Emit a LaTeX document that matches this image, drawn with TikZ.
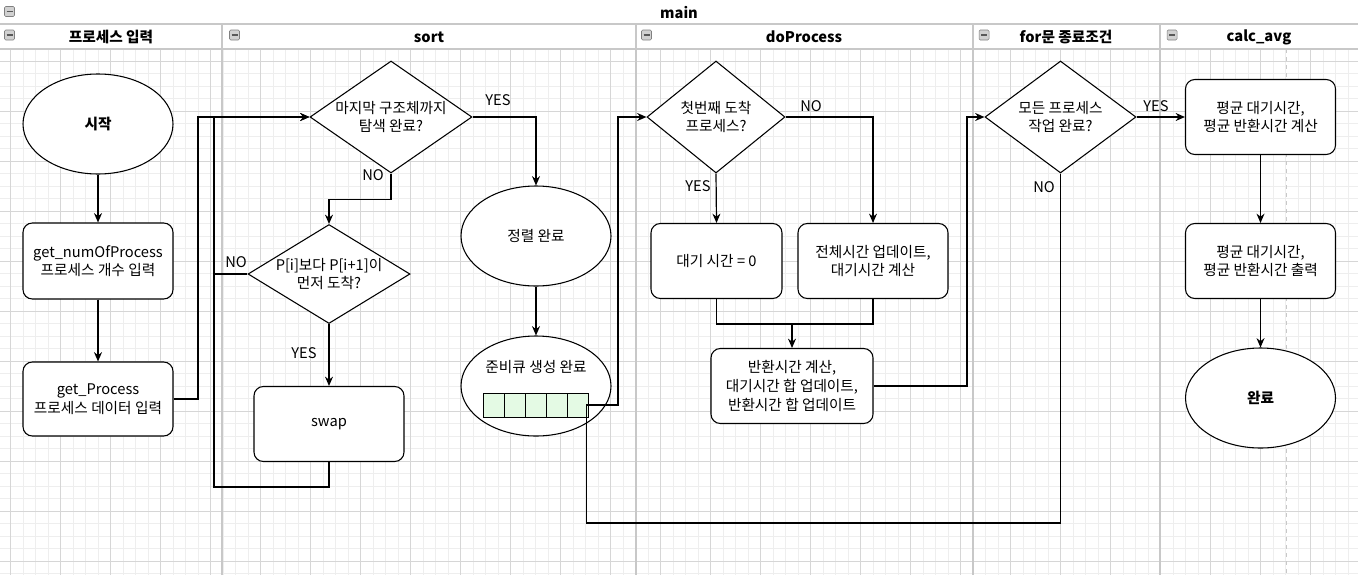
\documentclass[tikz,border=0pt]{standalone}
\usepackage{fontspec}
\setmainfont{Noto Sans CJK KR}
\usetikzlibrary{shapes.geometric,arrows.meta}
\definecolor{qgreen}{RGB}{228,250,228}
\definecolor{gridlo}{RGB}{238,238,238}
\definecolor{gridhi}{RGB}{214,214,214}
\definecolor{lanegray}{RGB}{200,200,200}

\begin{document}
\begin{tikzpicture}[x=0.75pt,y=-0.75pt,
    every node/.style={font=\fontsize{11}{14}\selectfont},
    box/.style={draw,rectangle,rounded corners=7pt,minimum width=112.5pt,minimum height=56.25pt,align=center,inner sep=0pt,fill=white,line width=0.8pt},
    term/.style={draw,ellipse,minimum width=112.5pt,minimum height=75pt,inner sep=0pt,fill=white,line width=0.8pt},
    dec/.style={draw,diamond,inner sep=0pt,fill=white,line width=0.8pt},
    qcell/.style={draw,fill=qgreen,minimum width=15.75pt,minimum height=18pt,inner sep=0pt,line width=0.7pt},
    head/.style={font=\fontsize{11}{12}\selectfont\bfseries},
    flow/.style={line width=0.9pt},
    arr/.style={flow,-{Stealth[length=7pt,width=6pt]}}]

      \useasboundingbox (0,0) rectangle (1358,575);
      \fill[white] (0,0) rectangle (1358,575);

      \begin{scope}
        \foreach \gx in {10.7,23.2,...,1358} \draw[gridlo] (\gx,49) -- (\gx,575);
        \foreach \gy in {61,73.5,...,575} \draw[gridlo] (0,\gy) -- (1358,\gy);
        \foreach \gx in {10.7,60.7,...,1358} \draw[gridhi] (\gx,49) -- (\gx,575);
        \foreach \gy in {61,111,...,575} \draw[gridhi] (0,\gy) -- (1358,\gy);
        \draw[lanegray,dashed] (1286,49) -- (1286,575);
        \draw[lanegray,line width=1.2pt] (0,24) -- (1358,24) (0,49) -- (1358,49);
        \foreach \lx in {222,636,973,1160} \draw[lanegray,line width=1.2pt] (\lx,24) -- (\lx,575);
        \foreach \ix/\iy in {9.5/11.5,9.5/35,234.5/35,646.5/35,984/35,1172/35} {
          \filldraw[fill=black!18,draw=black!50,rounded corners=1pt] (\ix-5,\iy-5) rectangle (\ix+5,\iy+5);
          \draw[black!65,line width=1.2pt] (\ix-3,\iy) -- (\ix+3,\iy);
        }
      \end{scope}

      \node[head] (hmain) at (679,13) {main};
      \node[head] (hin)   at (111,37) {프로세스 입력};
      \node[head] (hsort) at (429,37) {sort};
      \node[head] (hdo)   at (804,37) {doProcess};
      \node[head] (hfor)  at (1066,37) {for문 종료조건};
      \node[head] (havg)  at (1259,37) {calc\_avg};

      \node[term,font=\fontsize{11}{14}\selectfont\bfseries] (start) at (98,124) {시작};
      \node[box,minimum height=57pt] (numin) at (98,261) {get\_numOfProcess\\프로세스 개수 입력};
      \node[box,minimum height=55.5pt] (procin) at (98,399) {get\_Process\\프로세스 데이터 입력};

      \node[dec,minimum width=121.5pt,minimum height=84pt,
            label={[name=d1t,align=center]center:마지막 구조체까지\\탐색 완료?}] (d1) at (391,117) {};
      \node[dec,minimum width=121.5pt,minimum height=74.25pt,
            label={[name=d4t,align=center]center:P[i]보다 P[i+1]이\\먼저 도착?}] (d4) at (329,274) {};
      \node[box] (swap) at (329,424) {swap};
      \node[term] (sorted) at (536,236) {정렬 완료};
      \node[term] (ready) at (536,386) {};
      \node (readyt) at (536,367) {준비큐 생성 완료};
      \foreach \i in {0,...,4}
        \node[qcell] (q\i) at ({493.8+21*\i},405) {};
      \coordinate (qout) at ([xshift=-2pt]q4.east);

      \node[dec,minimum width=103.5pt,minimum height=84pt,
            label={[name=d2t,align=center]center:첫번째 도착\\프로세스?}] (d2) at (716,117) {};
      \node[box,minimum width=98.25pt] (wait0) at (716.5,261) {대기 시간 = 0};
      \node[box] (upd) at (873,261) {전체시간 업데이트,\\대기시간 계산};
      \node[box,minimum width=121.5pt] (ret) at (792,386) {반환시간 계산,\\대기시간 합 업데이트,\\반환시간 합 업데이트};
      \coordinate (join) at (792,323);

      \node[dec,minimum width=113.25pt,minimum height=84pt,
            label={[name=d3t,align=center]center:모든 프로세스\\작업 완료?}] (d3) at (1060.5,117) {};
      \node[box] (avg) at (1260.5,117) {평균 대기시간,\\평균 반환시간 계산};
      \node[box] (out) at (1260.5,261) {평균 대기시간,\\평균 반환시간 출력};
      \node[term,font=\fontsize{11}{14}\selectfont\bfseries] (done) at (1260.5,398) {완료};

      \draw[arr] (start) -- (numin);
      \draw[arr] (numin) -- (procin);
      \draw[arr] (procin.east) -- (198,399) |- (d1.west);
      \draw[arr] (d1.south) -- ++(0,26) -| (d4.north);
      \draw[arr] (d4.west) -- (214,274) |- (d1.west);
      \draw[arr] (d4.south) -- (swap.north);
      \draw[flow] (swap.south) -- ++(0,25) -| (214,274);
      \draw[arr] (d1.east) -| (sorted.north);
      \draw[arr] (sorted) -- (ready);
      \draw[arr] (qout) -- (618,405) |- (d2.west);
      \draw[arr] (d2.south) -- (wait0.north);
      \draw[arr] (d2.east) -| (upd.north);
      \draw[flow] (wait0.south) -- ++(0,25) -| (upd.south);
      \draw[arr] (join) -- (ret.north);
      \draw[arr] (ret.east) -- (967,386) |- (d3.west);
      \draw[arr] (d3.east) -- (avg.west);
      \draw[flow] (d3.south) -- (1060.5,523) -| (qout);
      \draw[arr] (avg) -- (out);
      \draw[arr] (out) -- (done);

      \node (no1)  at (373,175) {NO};
      \node (yes1) at (498,100) {YES};
      \node (no4)  at (236,262) {NO};
      \node (yes4) at (304,353) {YES};
      \node (yes2) at (698,186) {YES};
      \node (no2)  at (811,106) {NO};
      \node (yes3) at (1156,106) {YES};
      \node (no3)  at (1044,187) {NO};

    \end{tikzpicture}
\end{document}
